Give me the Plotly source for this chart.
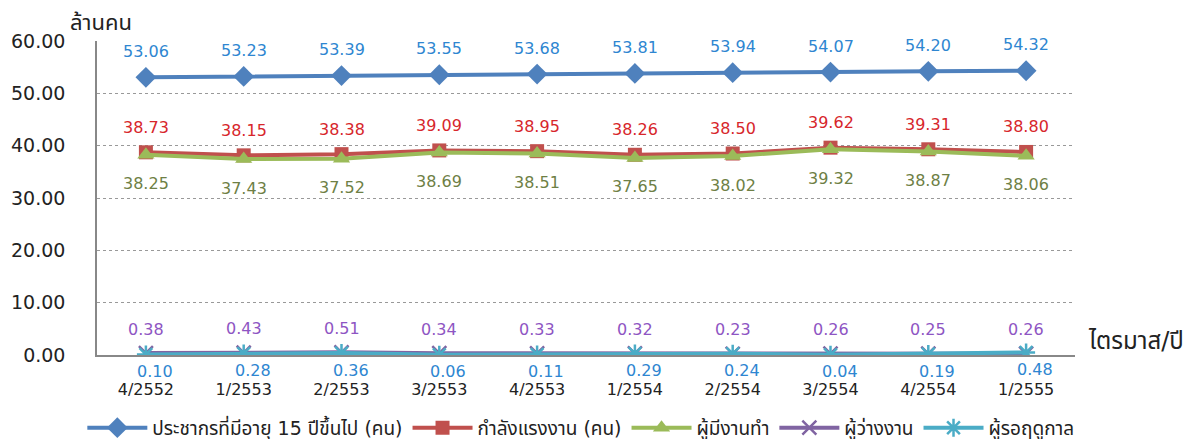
import plotly.graph_objects as go

quarters = ["4/2552", "1/2553", "2/2553", "3/2553", "4/2553",
            "1/2554", "2/2554", "3/2554", "4/2554", "1/2555"]

population_15 = [53.06, 53.23, 53.39, 53.55, 53.68, 53.81, 53.94, 54.07, 54.20, 54.32]
labour_force = [38.73, 38.15, 38.38, 39.09, 38.95, 38.26, 38.50, 39.62, 39.31, 38.80]
employed = [38.25, 37.43, 37.52, 38.69, 38.51, 37.65, 38.02, 39.32, 38.87, 38.06]
unemployed = [0.38, 0.43, 0.51, 0.34, 0.33, 0.32, 0.23, 0.26, 0.25, 0.26]
seasonal = [0.10, 0.28, 0.36, 0.06, 0.11, 0.29, 0.24, 0.04, 0.19, 0.48]

FONT = "DejaVu Sans, Verdana, Noto Sans Thai, Tahoma, sans-serif"

series = [
    # name, values, line colour, marker, label colour, label shift
    ("ประชากรที่มีอายุ 15 ปีขึ้นไป (คน)", population_15, "#4F81BD",
     dict(symbol="diamond", size=16), "#2E86D1", 26, 0),
    ("กำลังแรงงาน (คน)", labour_force, "#C0504D",
     dict(symbol="square", size=14), "#D7262B", 25, 0),
    ("ผู้มีงานทำ", employed, "#9BBB59",
     dict(symbol="triangle-up", size=15), "#6E7F45", -29, 0),
    ("ผู้ว่างงาน", unemployed, "#8064A2",
     dict(symbol="x-thin", size=14, line=dict(width=2.5, color="#8064A2")), "#8E55C3", 24, 0),
    ("ผู้รอฤดูกาล", seasonal, "#4BACC6",
     dict(symbol="asterisk", size=15, line=dict(width=2.5, color="#4BACC6")), "#2E86D1", -17, 9),
]

fig = go.Figure()
for name, vals, color, marker, lab_color, dy, dx in series:
    marker = dict(marker, color=color)
    fig.add_trace(go.Scatter(
        x=quarters, y=vals, name=name, mode="lines+markers",
        line=dict(color=color, width=4), marker=marker,
    ))
    for q, v in zip(quarters, vals):
        fig.add_annotation(x=q, y=v, text=f"{v:.2f}", showarrow=False,
                           yshift=dy, xshift=dx,
                           font=dict(family=FONT, size=16, color=lab_color))

fig.add_annotation(xref="paper", yref="paper", x=-0.03, y=1.012, xanchor="left",
                   yanchor="bottom", text="ล้านคน", showarrow=False,
                   font=dict(family=FONT, size=22, color="#222"))
fig.add_annotation(xref="paper", yref="paper", x=1.011, y=-0.005, xanchor="left",
                   yanchor="bottom", text="ไตรมาส/ปี", showarrow=False,
                   font=dict(family=FONT, size=24, color="#222"))

fig.update_layout(
    width=1186, height=431,
    margin=dict(l=89, r=119, t=33, b=84, autoexpand=False),
    paper_bgcolor="white", plot_bgcolor="white",
    font=dict(family=FONT, color="#222"),
    showlegend=True,
    legend=dict(orientation="h", x=-0.015, y=-0.232, xanchor="left", yanchor="middle",
                font=dict(family=FONT, size=19), itemwidth=60,
                tracegroupgap=0),
)
fig.update_xaxes(range=[-0.5, 9.5], showgrid=False, showline=True,
                 linecolor="#888", linewidth=1.5, ticks="", ticklabelstandoff=19,
                 tickfont=dict(family=FONT, size=16, color="#222"))
fig.update_yaxes(range=[0, 60], dtick=10, tickformat=".2f", showgrid=True,
                 gridcolor="#999", griddash="dot", gridwidth=1,
                 showline=True, linecolor="#888", linewidth=1.5,
                 zeroline=False, ticks="", ticklabelstandoff=26,
                 tickfont=dict(family=FONT, size=19, color="#222"))

fig.write_html("out.html")
